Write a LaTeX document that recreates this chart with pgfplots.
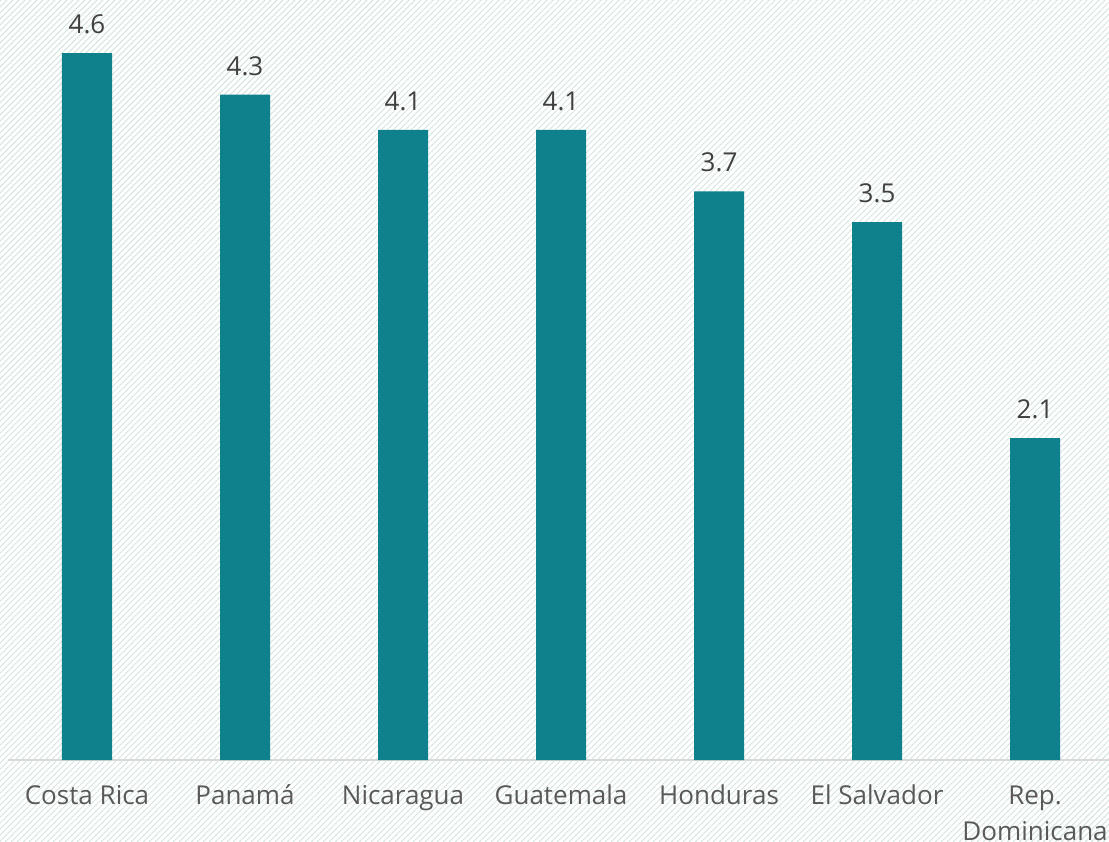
\documentclass[border=0pt]{standalone}
\usepackage{pgfplots}
\pgfplotsset{compat=1.18}
\usepackage{fontspec}
\setmainfont{Open Sans}
\usetikzlibrary{patterns,backgrounds}
\definecolor{barc}{HTML}{0E818C}
\definecolor{lblc}{HTML}{404040}
\definecolor{tickc}{HTML}{595959}
\definecolor{hatch}{HTML}{CFE2DE}
\definecolor{axc}{HTML}{D9D9D9}
\begin{document}
\begin{tikzpicture}
\begin{axis}[
  x=79pt, y=76.85pt,
  xmin=-0.5, xmax=6.47, ymin=0, ymax=4.945,
  axis x line=bottom, axis y line=none,
  x axis line style={axc, line width=0.8pt, -},
  ytick=\empty,
  xtick=data,
  xticklabels={Costa Rica, Panamá, Nicaragua, Guatemala, Honduras, El Salvador, {\begin{tabular}[t]{@{}c@{}}Rep.\\Dominicana\end{tabular}}},
  major tick length=0pt,
  xticklabel style={anchor=base, inner sep=0pt, text=tickc, font={\fontsize{13}{18}\selectfont}, yshift=-22pt},
  clip=false,
  ybar, bar width=25pt,
  nodes near coords,
  nodes near coords style={anchor=base, inner sep=0pt, text=lblc, font={\fontsize{13}{15}\selectfont}, yshift=9.7pt},
  point meta=explicit symbolic,
]
\addplot[fill=barc, draw=none] coordinates {
 (0,4.6) [4.6] (1,4.33) [4.3] (2,4.1) [4.1] (3,4.1) [4.1] (4,3.7) [3.7] (5,3.5) [3.5] (6,2.095) [2.1]
};
\coordinate (bl) at (axis cs:-0.5506,-0.527);
\coordinate (tr) at (axis cs:6.468,4.945);
\end{axis}
\begin{scope}[on background layer]
\fill[white] (bl) rectangle (tr);
\fill[pattern=north east lines, pattern color=hatch] (bl) rectangle (tr);
\end{scope}
\pgfresetboundingbox
\useasboundingbox (bl) rectangle (tr);
\end{tikzpicture}
\end{document}
